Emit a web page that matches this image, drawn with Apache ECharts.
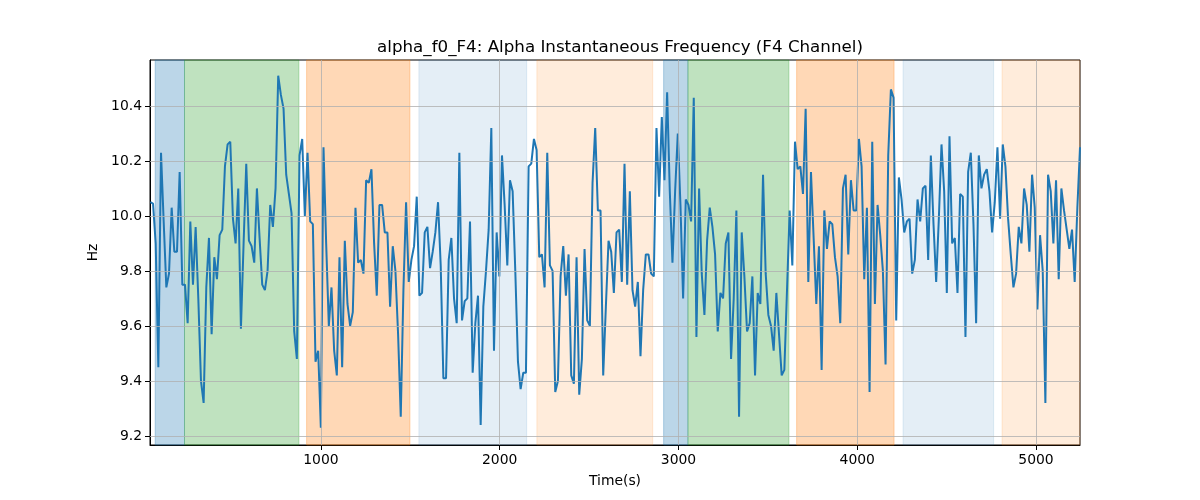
<!DOCTYPE html>
<html><head><meta charset="utf-8">
<script src="https://cdn.jsdelivr.net/npm/echarts@6/dist/echarts.min.js"></script>
<style>html,body{margin:0;padding:0;background:#fff}#c{width:1200px;height:500px}</style>
</head><body><div id="c"></div>
<script>
const chartTitle = 'alpha_f0_F4: Alpha Instantaneous Frequency (F4 Channel)';
const xName = 'Time(s)';
const yName = 'Hz';
const startTime = 46;
const sampleStep = 14.9;
const freqHz = [
10.05,10.045,9.90,9.45,10.23,9.98,9.74,9.79,10.03,9.87,9.87,10.16,9.75,9.75,9.61,9.98,9.75,9.96,9.70,9.40,
9.32,9.74,9.92,9.57,9.85,9.77,9.93,9.95,10.18,10.26,10.27,9.99,9.90,10.10,9.59,9.90,10.19,9.91,9.89,9.83,
10.10,9.92,9.75,9.73,9.80,10.04,9.96,10.10,10.51,10.44,10.39,10.15,10.08,10.01,9.58,9.48,10.22,10.28,10.00,10.23,
9.98,9.97,9.47,9.51,9.23,10.25,9.90,9.60,9.74,9.51,9.42,9.85,9.45,9.91,9.68,9.60,9.65,10.03,9.83,9.84,
9.79,10.13,10.12,10.17,9.90,9.71,10.04,10.04,9.94,9.94,9.67,9.89,9.80,9.57,9.27,9.73,10.05,9.76,9.84,9.89,
10.07,9.71,9.72,9.94,9.96,9.81,9.87,9.94,10.05,9.82,9.41,9.41,9.84,9.92,9.70,9.61,10.23,9.62,9.69,9.70,
9.98,9.43,9.61,9.71,9.24,9.67,9.80,9.95,10.32,9.51,9.94,9.78,10.22,10.04,9.82,10.13,10.09,9.80,9.47,9.37,
9.43,9.43,10.18,10.19,10.28,10.24,9.85,9.86,9.74,10.23,9.82,9.80,9.36,9.40,9.78,9.89,9.71,9.86,9.42,9.39,
9.85,9.35,9.48,9.88,9.62,9.60,10.12,10.32,10.02,10.02,9.42,9.67,9.91,9.87,9.72,9.94,9.95,9.76,10.19,9.75,
10.09,9.73,9.67,9.76,9.49,9.73,9.86,9.86,9.79,9.78,10.32,10.07,10.36,10.13,10.45,10.09,9.83,10.09,10.30,10.04,
9.70,10.06,10.04,9.98,10.43,9.56,10.10,9.79,9.64,9.91,10.03,9.96,9.86,9.58,9.72,9.70,9.90,9.94,9.48,9.70,
10.02,9.27,9.94,9.78,9.58,9.61,9.78,9.42,9.72,9.68,10.15,9.79,9.64,9.60,9.51,9.72,9.57,9.42,9.44,9.73,
10.02,9.82,10.27,10.17,10.18,10.08,10.39,9.76,10.16,9.92,9.68,9.89,9.44,10.02,9.88,9.98,9.97,9.85,9.78,9.61,
10.10,10.15,9.86,10.13,10.02,10.02,10.28,10.18,9.77,10.03,9.36,10.27,9.68,10.04,9.93,9.80,9.46,10.22,10.46,10.43,
9.62,10.14,10.06,9.94,9.98,9.99,9.79,9.84,10.06,9.98,10.10,10.11,9.84,10.22,9.97,9.76,9.99,10.26,10.09,9.72,
10.29,9.90,9.92,9.72,10.08,10.07,9.56,10.16,10.23,9.97,9.61,10.22,10.10,10.15,10.17,10.09,9.94,10.05,10.25,
9.99,10.26,10.18,9.99,9.86,9.74,9.79,9.96,9.90,10.10,10.04,9.87,10.15,10.03,9.66,9.93,9.80,9.32,10.15,10.09,
9.90,10.13,9.77,10.10,10.02,9.95,9.88,9.95,9.76,10.03,10.25
];
const xTicks = [1000, 2000, 3000, 4000, 5000];
const yTicks = [9.2, 9.4, 9.6, 9.8, 10.0, 10.2, 10.4];
const spanStarts = [73, 237, 920, 1548, 2208, 2917, 3053, 3661, 4256, 4810];
const spanEnds   = [237, 877, 1498, 2151, 2856, 3053, 3618, 4206, 4763, 5300];
const spanKinds  = ['blue','green','orange','lightblue','lightorange','blue','green','orange','lightblue','lightorange'];

const xMin = 44, xMax = 5246, yMin = 9.167, yMax = 10.567;
const spanStyle = {
  blue: {color: 'rgba(31,119,180,0.3)'},
  green: {color: 'rgba(44,160,44,0.3)'},
  orange: {color: 'rgba(255,127,14,0.3)'},
  lightblue: {color: 'rgba(31,119,180,0.12)'},
  lightorange: {color: 'rgba(255,127,14,0.15)'}
};
const FONT = 'DejaVu Sans';
const lineData = freqHz.map((v, i) => [startTime + i * sampleStep, v]);
const areas = spanStarts.map((s, i) => [
  {xAxis: s, itemStyle: {color: spanStyle[spanKinds[i]].color, borderColor: spanStyle[spanKinds[i]].color, borderWidth: 1}},
  {xAxis: spanEnds[i]}
]);
const gridLines = xTicks.map(t => ({xAxis: t})).concat(yTicks.map(t => ({yAxis: t})));

const chart = echarts.init(document.getElementById('c'), null, {renderer: 'canvas'});
chart.setOption({
  animation: false,
  backgroundColor: '#fff',
  title: {
    text: chartTitle, left: 615, top: 34, textAlign: 'center',
    textStyle: {fontFamily: FONT, fontSize: 16.7, fontWeight: 'normal', color: '#000'}
  },
  grid: {left: 150, right: 120, top: 60, bottom: 55, show: true, borderColor: '#000', borderWidth: 1, backgroundColor: 'transparent'},
  xAxis: {
    type: 'value', min: xMin, max: xMax,
    name: xName, nameLocation: 'middle', nameGap: 29,
    nameTextStyle: {fontFamily: FONT, fontSize: 13.9, color: '#000'},
    axisLine: {show: true, lineStyle: {color: '#000', width: 1}},
    axisTick: {show: true, length: 5, lineStyle: {color: '#000', width: 1}, customValues: xTicks},
    axisLabel: {fontFamily: FONT, fontSize: 13.9, color: '#000', margin: 8, customValues: xTicks, formatter: v => String(v)},
    splitLine: {show: false}
  },
  yAxis: {
    type: 'value', min: yMin, max: yMax,
    name: yName, nameLocation: 'middle', nameGap: 43, nameRotate: 90,
    nameTextStyle: {fontFamily: FONT, fontSize: 13.9, color: '#000'},
    axisLine: {show: true, lineStyle: {color: '#000', width: 1}},
    axisTick: {show: true, length: 5, lineStyle: {color: '#000', width: 1}, customValues: yTicks},
    axisLabel: {fontFamily: FONT, fontSize: 13.9, color: '#000', margin: 8, customValues: yTicks, formatter: v => v.toFixed(1)},
    splitLine: {show: false}
  },
  series: [
    {
      type: 'line', data: [], z: 1, silent: true,
      markArea: {silent: true, data: areas, label: {show: false}}
    },
    {
      type: 'line', data: [], z: 2, silent: true,
      markLine: {silent: true, symbol: 'none', label: {show: false},
        lineStyle: {color: '#b0b0b0', width: 0.8, type: 'solid'}, data: gridLines}
    },
    {
      type: 'line', data: lineData, z: 3, showSymbol: false, clip: true,
      lineStyle: {color: '#1f77b4', width: 2}, itemStyle: {color: '#1f77b4'}
    }
  ]
});
</script></body></html>
